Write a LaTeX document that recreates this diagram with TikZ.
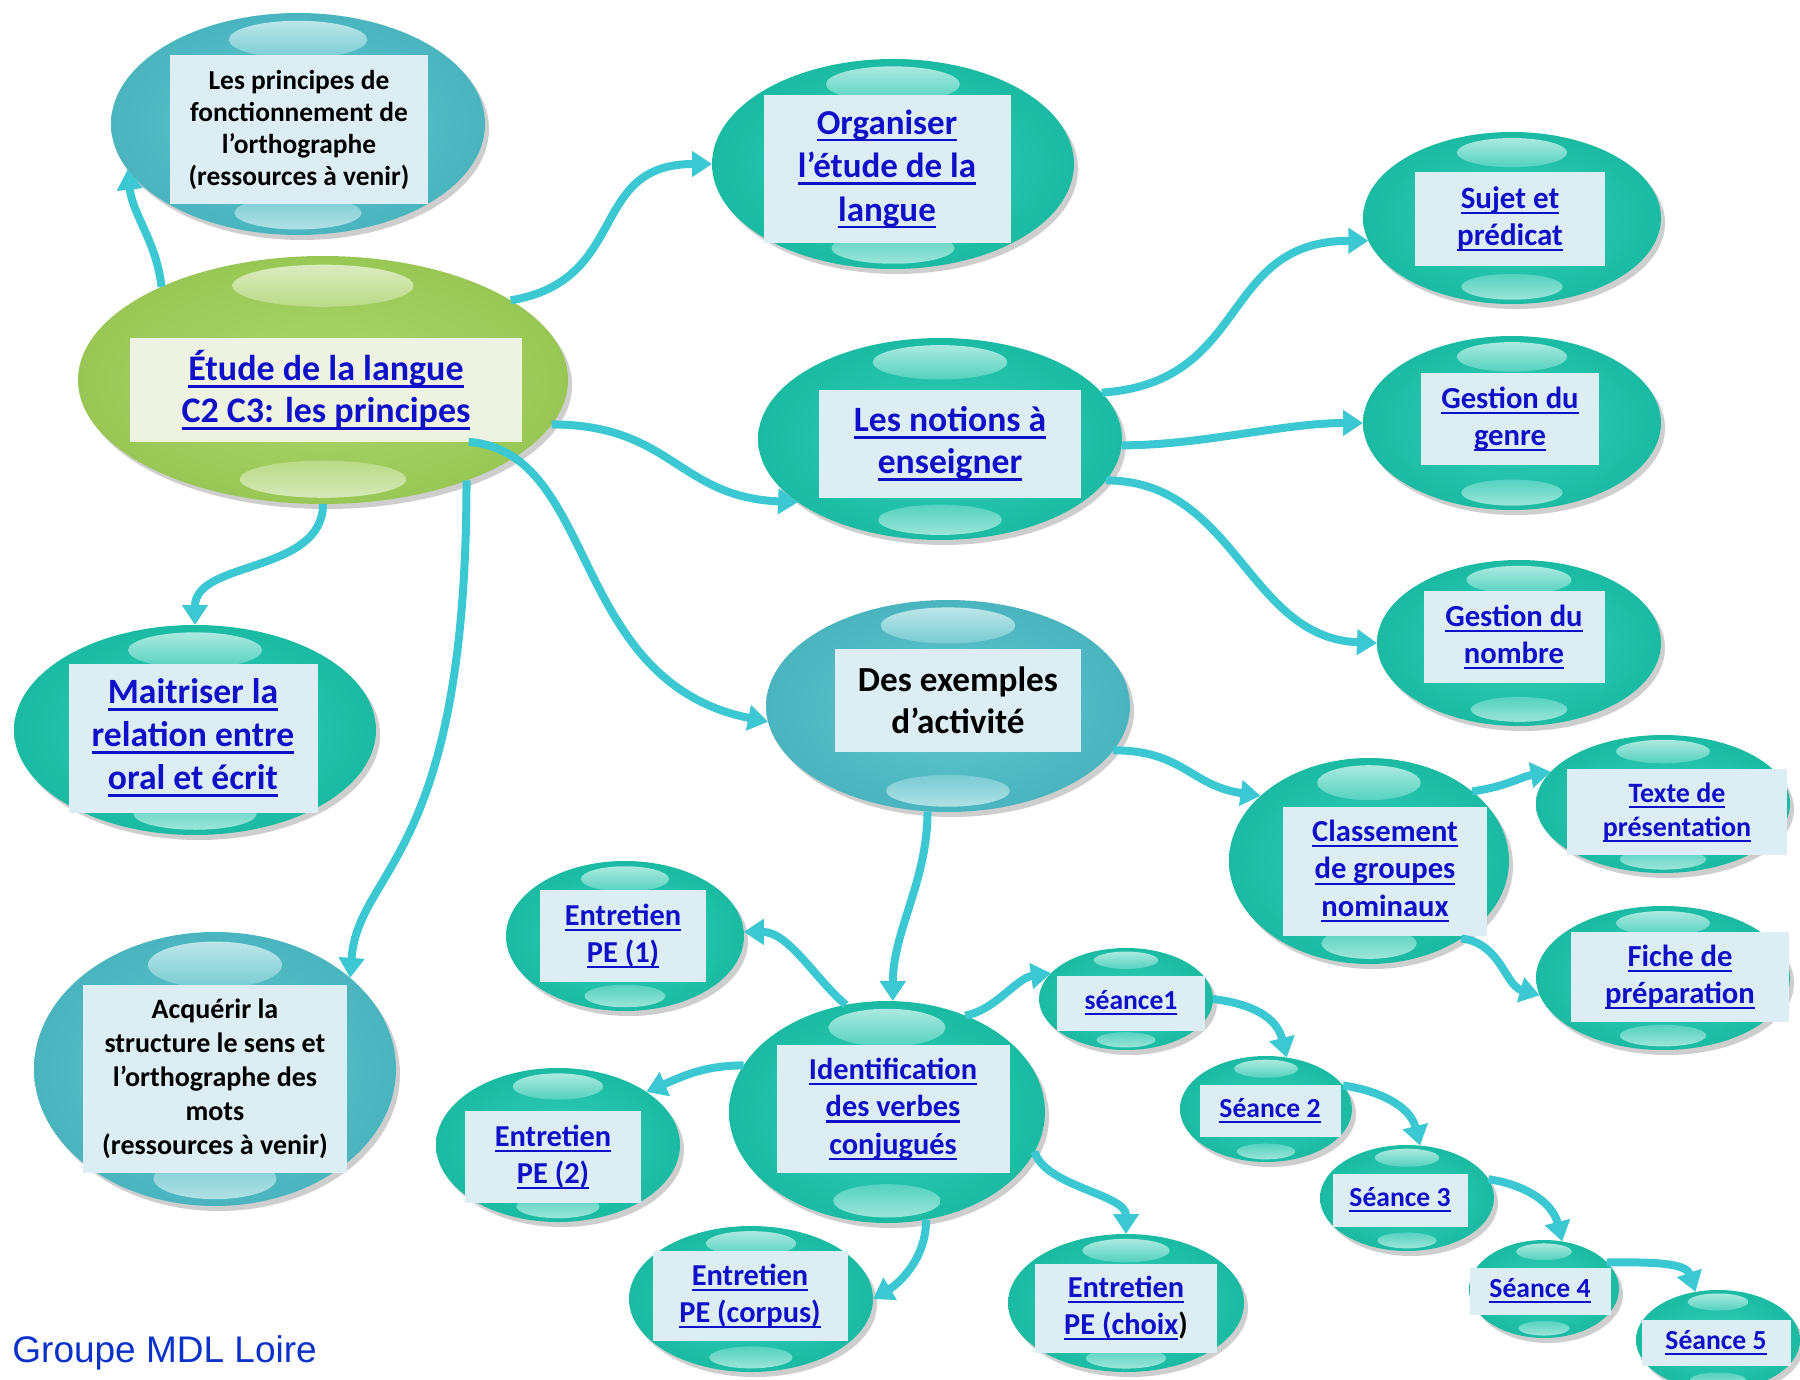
\documentclass[tikz,border=0pt]{standalone}
\usepackage{fontspec}
\setmainfont{Carlito}
\newfontfamily\arialf{Liberation Sans}
\usetikzlibrary{shapes.geometric,arrows.meta,calc}
\definecolor{tealbase}{HTML}{24C5AC}
\definecolor{tealin}{HTML}{36CEB8}
\definecolor{tealout}{HTML}{1ABBA2}
\definecolor{bluebase}{HTML}{52BDC6}
\definecolor{bluein}{HTML}{62C6CE}
\definecolor{blueout}{HTML}{4AB5BF}
\definecolor{grnbase}{HTML}{A3CE60}
\definecolor{grnin}{HTML}{ADD66D}
\definecolor{grnout}{HTML}{99C755}
\definecolor{boxc}{HTML}{DCEEF4}
\definecolor{mainboxc}{HTML}{EEF2E3}
\definecolor{linkc}{RGB}{16,16,200}
\definecolor{connc}{HTML}{3CC8D2}
\definecolor{footc}{RGB}{10,50,200}
\newcommand\ulk[1]{\setbox0=\hbox{#1}\rlap{\rule[-0.2em]{\wd0}{0.075em}}\box0}
\newcommand\fsz[2]{\fontsize{#1}{#2}\selectfont\bfseries}
\newcommand\mybub[5]{%
  \fill[shadowc] ($(#2)+(4,5)$) ellipse [x radius=#3, y radius=#4];
  \node[bubshape, minimum width=#3pt, minimum height=#4pt, #5] (#1) at (#2) {};
  \shade[#5hlt] ($(#2)+(0,-0.76*#4)$) ellipse [x radius=0.37*#3, y radius=0.17*#4];
  \shade[#5hlb] ($(#2)+(0,0.80*#4)$) ellipse [x radius=0.34*#3, y radius=0.15*#4];
}
\tikzset{
  shadowc/.style={fill=black!35, opacity=0.55},
  bubshape/.style={ellipse, inner sep=0pt, outer sep=0pt},
  kteal/.style={shade, inner color=tealin, outer color=tealout},
  ktealhlt/.style={top color=white!62!tealbase, bottom color=white!22!tealbase},
  ktealhlb/.style={top color=white!22!tealbase, bottom color=white!55!tealbase},
  kblue/.style={shade, inner color=bluein, outer color=blueout},
  kbluehlt/.style={top color=white!62!bluebase, bottom color=white!22!bluebase},
  kbluehlb/.style={top color=white!22!bluebase, bottom color=white!55!bluebase},
  kgrn/.style={shade, inner color=grnin, outer color=grnout},
  kgrnhlt/.style={top color=white!60!grnbase, bottom color=white!25!grnbase},
  kgrnhlb/.style={top color=white!25!grnbase, bottom color=white!55!grnbase},
  boxs/.style={rectangle, fill=boxc, inner sep=0pt, align=center, text=linkc},
  boxk/.style={boxs, text=black},
  conn/.style={draw=connc, line width=4pt, -{Triangle[width=12.5pt,length=10pt]}},
}
\begin{document}
\begin{tikzpicture}[x=0.5pt,y=-0.5pt]
\useasboundingbox (0,0) rectangle (1800,1380);
\fill[white] (0,0) rectangle (1800,1380);

% bubbles
\mybub{princ}{298,124}{187}{111}{kblue}
\mybub{org}{893,164}{181}{105}{kteal}
\mybub{main}{323,380}{245}{124}{kgrn}
\mybub{sujet}{1512,218}{149}{86}{kteal}
\mybub{notions}{940,439}{182}{101}{kteal}
\mybub{genre}{1512,423}{149}{87}{kteal}
\mybub{nombre}{1519,643}{142}{83}{kteal}
\mybub{maitr}{195,730}{181}{105}{kteal}
\mybub{exemples}{948,706}{182}{106}{kblue}
\mybub{class}{1369,861}{140}{103}{kteal}
\mybub{texte}{1663,804}{127}{69}{kteal}
\mybub{fiche}{1663,978}{127}{72}{kteal}
\mybub{pe1}{625,936}{119}{75}{kteal}
\mybub{acq}{215,1069}{181}{137}{kblue}
\mybub{ident}{887,1112}{158}{111}{kteal}
\mybub{s1}{1126,999}{87}{51}{kteal}
\mybub{s2}{1266,1109}{86}{53}{kteal}
\mybub{s3}{1407,1198}{87}{53}{kteal}
\mybub{s4}{1544,1289}{75}{49}{kteal}
\mybub{s5}{1718,1340}{82}{50}{kteal}
\mybub{pe2}{558,1145}{122}{77}{kteal}
\mybub{corpus}{751,1299}{122}{73}{kteal}
\mybub{choix}{1126,1303}{118}{69}{kteal}

% text boxes
\node[boxk, minimum width=129pt, minimum height=74.5pt, font=\fsz{13.7}{16}] (tprinc) at (299,130)
  {Les principes de\\fonctionnement de\\l’orthographe\\(ressources à venir)};
\node[boxs, minimum width=123.5pt, minimum height=74pt, font=\fsz{17.5}{21.8}] (torg) at (887,169)
  {\ulk{Organiser}\\\ulk{l’étude de la}\\\ulk{langue}};
\node[boxs, fill=mainboxc, minimum width=196pt, minimum height=51.5pt, font=\fsz{18}{21}] (tmain) at (326,390)
  {\ulk{Étude de la langue}\\\ulk{C2 C3: les principes}};
\node[boxs, minimum width=95pt, minimum height=47pt, font=\fsz{15.5}{18.5}] (tsujet) at (1510,219)
  {\ulk{Sujet et}\\\ulk{prédicat}};
\node[boxs, minimum width=131pt, minimum height=53.5pt, font=\fsz{17.8}{21}] (tnotions) at (950,444)
  {\ulk{Les notions à}\\\ulk{enseigner}};
\node[boxs, minimum width=89pt, minimum height=46pt, font=\fsz{15.3}{18.4}] (tgenre) at (1510,419)
  {\ulk{Gestion du}\\\ulk{genre}};
\node[boxs, minimum width=90.5pt, minimum height=46pt, font=\fsz{15.3}{18.4}] (tnombre) at (1514,637)
  {\ulk{Gestion du}\\\ulk{nombre}};
\node[boxs, minimum width=124.5pt, minimum height=74.5pt, font=\fsz{17.8}{21.5}] (tmaitr) at (193,738)
  {\ulk{Maitriser la}\\\ulk{relation entre}\\\ulk{oral et écrit}};
\node[boxk, minimum width=123pt, minimum height=51.5pt, font=\fsz{17.6}{21}] (texemples) at (958,700)
  {Des exemples\\d’activité};
\node[boxs, minimum width=102pt, minimum height=64.5pt, font=\fsz{15.3}{18.7}] (tclass) at (1385,871)
  {\ulk{Classement}\\\ulk{de groupes}\\\ulk{nominaux}};
\node[boxs, minimum width=110pt, minimum height=43pt, font=\fsz{14}{17}] (ttexte) at (1677,812)
  {\ulk{Texte de}\\\ulk{présentation}};
\node[boxs, minimum width=109pt, minimum height=45pt, font=\fsz{15.3}{18.4}] (tfiche) at (1680,977)
  {\ulk{Fiche de}\\\ulk{préparation}};
\node[boxs, minimum width=83pt, minimum height=46pt, font=\fsz{15.2}{18.4}] (tpe1) at (623,936)
  {\ulk{Entretien}\\\ulk{PE (1)}};
\node[boxk, minimum width=132pt, minimum height=94pt, font=\fsz{14}{17}] (tacq) at (215,1079)
  {Acquérir la\\structure le sens et\\l’orthographe des\\mots\\(ressources à venir)};
\node[boxs, minimum width=116.5pt, minimum height=64pt, font=\fsz{15.2}{18.7}] (tident) at (893,1109)
  {\ulk{Identification}\\\ulk{des verbes}\\\ulk{conjugués}};
\node[boxs, minimum width=74pt, minimum height=27.5pt, font=\fsz{13.8}{17}] (ts1) at (1131,1003) {\ulk{séance1}};
\node[boxs, minimum width=70.5pt, minimum height=26pt, font=\fsz{13.8}{17}] (ts2) at (1270,1111) {\ulk{Séance 2}};
\node[boxs, minimum width=67.5pt, minimum height=26.5pt, font=\fsz{13.8}{17}] (ts3) at (1400,1200) {\ulk{Séance 3}};
\node[boxs, minimum width=70.5pt, minimum height=23.5pt, font=\fsz{13.8}{17}] (ts4) at (1540,1291) {\ulk{Séance 4}};
\node[boxs, minimum width=74.5pt, minimum height=23pt, font=\fsz{13.8}{17}] (ts5) at (1716,1343) {\ulk{Séance 5}};
\node[boxs, minimum width=88pt, minimum height=46pt, font=\fsz{15.2}{18.4}] (tpe2) at (553,1157)
  {\ulk{Entretien}\\\ulk{PE (2)}};
\node[boxs, minimum width=97.5pt, minimum height=45pt, font=\fsz{15.2}{18.4}] (tcorpus) at (750,1296)
  {\ulk{Entretien}\\\ulk{PE (corpus)}};
\node[boxs, minimum width=91pt, minimum height=44.5pt, font=\fsz{15.2}{18.4}] (tchoix) at (1126,1308)
  {\ulk{Entretien}\\\ulk{PE (choix}\textcolor{black}{)}};

% footer
\node[anchor=base west, inner sep=0pt, font=\arialf\fontsize{18.5}{22}\selectfont, text=footc] (foot) at (12,1362) {Groupe MDL Loire};

% connectors
\draw[conn] (main.150) .. controls +(-5,-45) and +(5,45) .. (princ.195);
\draw[conn] (main.23) .. controls +(120,-20) and +(-125,0) .. (org.180);
\draw[conn] (main.-11) .. controls +(120,0) and +(-120,-5) .. (notions.204);
\draw[conn] (tmain.-20) .. controls +(130,10) and +(-200,-40) .. (exemples.185);
\draw[conn] (main.-90) .. controls +(0,70) and +(0,-65) .. (maitr.90);
\draw[conn] (main.-35) .. controls +(0,380) and +(8,-110) .. (acq.34);
\draw[conn] (notions.16) .. controls +(150,-10) and +(-150,0) .. (sujet.189);
\draw[conn] (notions.-2) .. controls +(80,0) and +(-80,0) .. (genre.180);
\draw[conn] (notions.-14) .. controls +(130,0) and +(-130,-5) .. (nombre.180);
\draw[conn] (exemples.-15) .. controls +(70,0) and +(-70,-10) .. (class.149);
\draw[conn] (exemples.-101) .. controls +(0,70) and +(0,-70) .. (ident.87);
\draw[conn] (class.34) .. controls +(35,-5) and +(-30,5) .. (texte.164);
\draw[conn] (class.-40) .. controls +(40,5) and +(-35,-10) .. (fiche.188);
\draw[conn] (ident.111) .. controls +(-30,-25) and +(45,0) .. (pe1.2);
\draw[conn] (ident.162) .. controls +(-40,0) and +(35,-15) .. (pe2.31);
\draw[conn] (ident.51) .. controls +(30,-5) and +(-35,5) .. (s1.161);
\draw[conn] (ident.-15) .. controls +(10,35) and +(0,-40) .. (choix.90);
\draw[conn] (ident.-70) .. controls +(0,40) and +(25,-15) .. (corpus.0);
\draw[conn] (s1.0) .. controls +(40,5) and +(-10,-40) .. (s2.68);
\draw[conn] (s2.17) .. controls +(35,5) and +(-10,-40) .. (s3.76);
\draw[conn] (s3.13) .. controls +(35,5) and +(-10,-40) .. (s4.69);
\draw[conn] (s4.23) .. controls +(40,0) and +(-10,-30) .. (s5.115);
\end{tikzpicture}
\end{document}
